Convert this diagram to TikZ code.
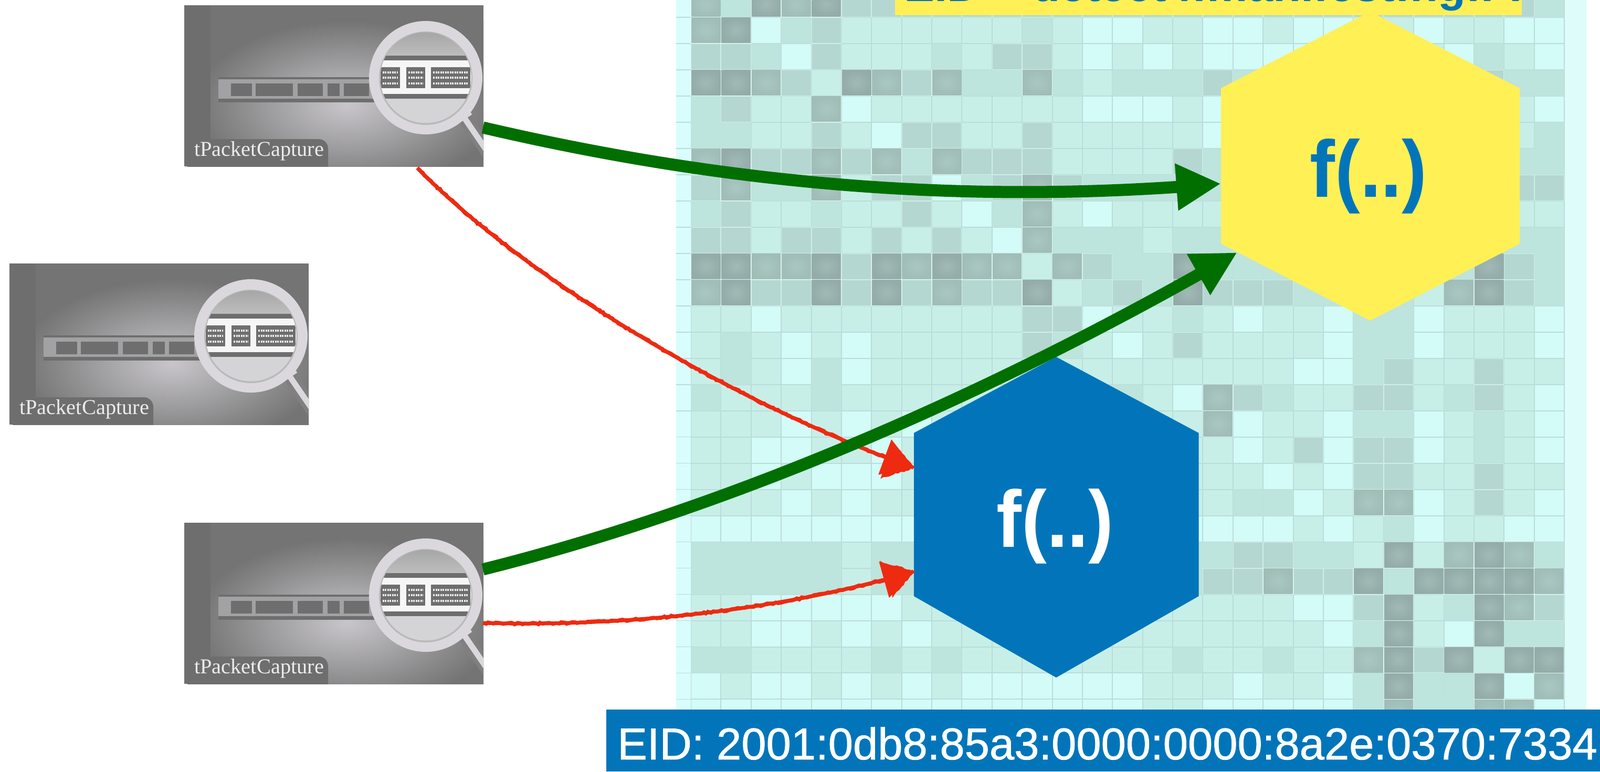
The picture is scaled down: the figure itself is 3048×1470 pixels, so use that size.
\documentclass[tikz,border=0pt]{standalone}
\usepackage{fontspec}
\setmainfont{Liberation Sans}
\newfontfamily\serifcap{Liberation Serif}
\newfontfamily\medsans[FakeBold=0.9]{Liberation Sans}
\usetikzlibrary{arrows.meta,decorations.pathmorphing,bending}
\definecolor{hmA}{HTML}{D3FBF7}
\definecolor{hmB}{HTML}{C7EFE8}
\definecolor{hmC}{HTML}{BDE4DD}
\definecolor{hmD}{HTML}{B4D7D1}
\definecolor{hmE}{HTML}{AAC8C3}
\definecolor{hmEd}{HTML}{A0BDB8}
\definecolor{hmF}{HTML}{A2BAB6}
\definecolor{hmFd}{HTML}{94ACA9}
\definecolor{gridlow}{HTML}{BADCDA}
\definecolor{gridmid}{HTML}{C0E3DC}
\definecolor{gridhi}{HTML}{D0EEE8}
\definecolor{gridtop}{HTML}{E2F7F3}
\definecolor{stripL}{HTML}{D9FDFC}
\definecolor{stripR}{HTML}{DDFCFA}
\definecolor{ciscoblue}{HTML}{0275BA}
\definecolor{hexyellow}{HTML}{FFF056}
\definecolor{arrowgreen}{HTML}{006F00}
\definecolor{sketchred}{HTML}{EE2A10}
\definecolor{capbase}{HTML}{747474}
\definecolor{capdark}{HTML}{6E6E6E}
\definecolor{capglow}{HTML}{C8C6CA}
\definecolor{capstrip}{HTML}{A2A1A3}
\definecolor{capring}{HTML}{DAD8DC}
\definecolor{caplens}{HTML}{D4D3D5}
\tikzset{
  hmgap0/.style={fill=gridlow}, hmgap1/.style={fill=gridlow},
  hmgap2/.style={fill=gridmid}, hmgap3/.style={fill=gridhi},
  hmgap4/.style={fill=gridtop}, hmgap5/.style={fill=gridtop},
  hmcell0/.style={fill=hmA}, hmcell1/.style={fill=hmB},
  hmcell2/.style={fill=hmC}, hmcell3/.style={fill=hmD},
  hmcell4/.style={inner color=hmE,outer color=hmEd},
  hmcell5/.style={inner color=hmF,outer color=hmFd},
  bigarrow/.style={draw=arrowgreen,line width=23pt,-{Triangle[length=85pt,width=84pt,color=arrowgreen]}},
  redarrow/.style={draw=sketchred,line width=7pt,-{Triangle[length=58pt,width=70pt,color=sketchred]},
    postaction={draw=sketchred,-,line width=7pt,decorate,decoration={random steps,segment length=5pt,amplitude=1.8pt,post length=50pt}}},
  redhead/.style={draw=sketchred,line width=3pt,decorate,decoration={random steps,segment length=5pt,amplitude=1.6pt}},
  hexlabel/.style={inner sep=0pt,anchor=base},
  barlabel/.style={inner sep=0pt,anchor=base west},
  captext/.style={font=\fontsize{40.4}{42}\selectfont\serifcap,text=white!92!black,anchor=base west,inner sep=0pt},
  capbox/.style={inner sep=0pt,minimum width=570pt,minimum height=307pt,anchor=north west},
}
\newcommand{\hexword}{\scalebox{0.91}[0.97]{\fontsize{158}{160}\selectfont\bfseries f(..)}}
\newcommand{\tpcapture}[3]{%
\begin{scope}[shift={(#2,#3)}]
  \begin{scope}
    \clip (0,0) rectangle (570,307);
    \fill[capbase] (0,0) rectangle (570,307);
    \shade[inner color=capglow,outer color=capbase] (20,30) rectangle (600,350);
    \fill[capdark] (0,0) rectangle (50,307);
    % window strip
    \fill[capdark] (65,137) rectangle (370,141);
    \fill[capdark] (65,178) rectangle (370,185);
    \fill[capstrip] (65,141) rectangle (370,178);
    \foreach \xa/\xb in {89/129,136/207,215.5/264,273/296,303.5/352}
      \fill[capdark] (\xa,149) rectangle (\xb,172.7);
    % handle
    \draw[line width=26pt,color=gray] (527,205) -- (592,300);
    \draw[line width=11pt,color=capring] (527,205) -- (592,300);
    \draw[line width=32pt,color=capring] (522,198) -- (535,217);
    % magnifier
    \fill[capring] (460,138) circle[radius=108];
    \fill[gray!55!white] (460,139) circle[radius=89];
    \begin{scope}
      \clip (460,138) circle[radius=86.5];
      \shade[top color=gray!70!white,bottom color=caplens,middle color=caplens] (370,50) rectangle (550,226);
      \fill[white!93!gray] (370,105) rectangle (550,169);
      \fill[capdark] (370,96) rectangle (550,105);
      \fill[capdark] (370,169) rectangle (550,178);
      \foreach \xa/\xb in {373.5/411,423/458.5,470/545}{
        \fill[capdark] (\xa,118) rectangle (\xb,158);
        \foreach \yy in {128,138,149}
          \draw[white!85!gray,line width=3.5pt,dash pattern=on 3pt off 1.5pt] (\xa+4,\yy) -- (\xb-4,\yy);
      }
    \end{scope}
    % label blob
    \fill[capdark,rounded corners=18pt] (6,255) rectangle (274,325);
    \node[captext] at (19,287) {tPacketCapture};
  \end{scope}
  \node[capbox] (#1) at (0,0) {};
\end{scope}}
\begin{document}
\begin{tikzpicture}[x=1pt,y=-1pt]
\useasboundingbox (0,0) rectangle (3048,1470);
\fill[white] (0,0) rectangle (3048,1470);
% ---- heat map
\begin{scope}
\clip (1288,0) rectangle (3022,1352);
\fill[stripL] (1288,0) rectangle (1317,1352);
\fill[stripR] (2980,0) rectangle (3022,1352);
\foreach \cells [count=\r from 0] in {
{4,2,5,4,5,3,3,3,3,3,3,3,3,3,3,3,3,3,3,3,3,3,3,3,3,3,3,3,2},
{4,5,0,2,3,1,1,1,1,1,1,2,1,0,0,1,1,0,0,1,0,0,0,1,0,1,1,0,0},
{3,3,2,0,3,1,1,1,2,1,3,3,1,0,1,0,1,0,0,0,0,1,1,1,1,0,2,1,0},
{5,5,4,3,1,5,4,3,4,2,2,4,2,1,2,2,2,3,2,2,2,2,2,2,2,2,3,2,2},
{2,3,1,1,4,0,1,1,1,1,1,1,1,0,0,0,1,0,0,0,0,0,0,0,0,0,1,1,0},
{2,2,1,1,3,1,0,3,3,1,1,3,1,1,1,1,1,0,1,1,1,1,1,1,1,1,1,1,2},
{4,5,3,3,4,3,4,2,4,3,3,3,1,1,1,1,3,2,2,2,2,2,2,2,2,2,2,2,2},
{3,4,2,2,4,1,3,3,0,2,3,4,3,2,2,2,2,2,2,2,2,2,2,2,2,2,2,3,3},
{2,3,1,1,2,1,1,3,1,0,2,4,1,0,1,1,1,1,1,1,1,1,1,1,1,1,1,1,1},
{3,3,1,3,3,1,3,1,3,1,0,4,2,2,2,1,2,2,2,2,2,2,2,2,2,2,2,2,2},
{5,5,4,4,5,3,5,4,5,4,4,1,4,3,2,2,5,2,2,2,2,2,2,2,2,2,5,3,2},
{4,5,3,3,5,3,5,3,4,3,3,5,1,2,3,2,5,3,3,3,2,2,2,2,1,4,5,3,2},
{1,1,0,1,1,1,1,1,1,1,1,3,3,0,1,1,2,1,0,1,1,0,2,2,0,1,1,1,0},
{1,2,1,0,1,0,1,1,1,1,1,3,2,1,0,1,3,1,1,1,1,0,2,2,0,1,1,1,0},
{1,2,1,0,2,0,1,1,1,1,1,1,1,1,1,1,1,1,1,1,0,0,2,3,1,1,3,1,1},
{2,1,1,1,2,1,1,1,1,1,1,1,1,1,2,1,0,4,3,2,1,1,3,3,1,2,3,1,0},
{1,1,1,0,1,0,1,0,1,1,1,0,1,1,1,1,1,4,0,1,1,0,2,2,0,1,2,1,0},
{1,1,0,0,1,1,0,1,1,1,1,1,1,1,1,1,1,1,0,1,3,0,3,3,0,1,2,1,0},
{1,1,0,1,0,0,0,1,1,1,1,1,1,1,1,1,1,1,1,0,1,0,3,3,1,1,3,1,1},
{1,1,1,0,1,0,1,1,1,1,1,1,1,1,1,1,1,1,2,2,0,1,4,4,0,1,3,1,0},
{0,0,0,0,0,0,0,0,0,0,0,0,0,0,0,0,0,0,0,0,1,0,1,2,0,1,1,0,0},
{2,2,2,2,2,1,2,2,2,2,2,2,2,2,2,2,2,2,3,3,2,2,1,5,1,4,5,4,2},
{2,2,2,2,2,1,2,2,2,2,2,2,2,2,2,2,2,3,3,4,3,3,5,2,5,5,5,5,4},
{1,1,0,0,0,0,0,1,1,1,1,1,1,1,1,1,1,1,1,1,0,0,3,5,1,2,5,4,3},
{1,1,0,0,1,0,1,0,1,1,1,1,1,1,1,1,1,1,1,1,1,0,2,5,1,0,5,2,2},
{2,2,1,1,1,1,2,1,2,1,1,1,1,1,1,1,2,1,1,2,1,1,4,5,3,5,1,5,5},
{0,1,0,0,1,0,1,0,1,0,0,0,0,0,0,1,1,1,0,1,1,0,2,5,2,2,5,0,4},
{0,0,0,0,0,0,0,0,0,0,0,0,0,0,0,1,1,0,0,0,0,0,2,4,2,2,4,4,0}}{
  \foreach \t [count=\c from 0] in \cells {
    \pgfmathsetmacro{\xl}{1316+57.38*\c}
    \pgfmathsetmacro{\yl}{-17+49.98*\r}
    \path[hmgap\t] (\xl,\yl) rectangle ++(57.38,49.98);
    \path[hmcell\t] (\xl+1,\yl+1) rectangle ++(55.38,47.98);
  }
  \pgfmathsetmacro{\yl}{33+49.98*\r}
  \draw[gridlow,line width=1.6pt] (1288,\yl) -- (1316,\yl);
}
\draw[gridlow,line width=1.2pt] (2980.5,0) -- (2980.5,1352);
\end{scope}
% ---- hexagons
\coordinate (yT) at (2610,22);
\coordinate (yTR) at (2895,168);
\coordinate (yBR) at (2895,464.5);
\coordinate (yB) at (2610,611);
\coordinate (yBL) at (2326,464.5);
\coordinate (yTL) at (2326,168);
\fill[hexyellow] (yT) -- (yTR) -- (yBR) -- (yB) -- (yBL) -- (yTL) -- cycle;
\node[hexlabel,text=ciscoblue] (fy) at (2607,375) {\hexword};
\coordinate (bT) at (2012,680);
\coordinate (bTR) at (2283.5,825);
\coordinate (bBR) at (2283.5,1136);
\coordinate (bB) at (2012,1291);
\coordinate (bBL) at (1741,1136);
\coordinate (bTL) at (1741,825);
\fill[ciscoblue] (bT) -- (bTR) -- (bBR) -- (bB) -- (bBL) -- (bTL) -- cycle;
\node[hexlabel,text=white] (fb) at (2010,1042) {\hexword};
% ---- bars
\path[fill=hexyellow] (1705,-2) rectangle (2899,29);
\begin{scope}
  \clip (1705,0) rectangle (2899,29);
  \node[barlabel,text=ciscoblue,font=\fontsize{87}{90}\selectfont\bfseries] (topbar) at (1722,2) {EID = detect4:manifest:ng:FF2};
\end{scope}
\path[fill=ciscoblue] (1155,1352) rectangle (3048,1470);
\node[barlabel,text=white,font=\fontsize{85}{90}\selectfont\medsans] (eid) at (1176,1447) {EID: 2001:0db8:85a3:0000:0000:8a2e:0370:7334};
% ---- capture images
\tpcapture{capA}{351}{10}
\tpcapture{capB}{18}{502}
\tpcapture{capC}{351}{996}
% ---- connector ends
\coordinate (rA) at (795,320);
\coordinate (rC) at (920,1187);
\coordinate (gA) at (920,243);
\coordinate (gC) at (920,1085);
\coordinate (inYa) at (2326,350);
\coordinate (inYb) at (2357,481);
\coordinate (inBa) at (1740,891);
\coordinate (inBb) at (1740,1089);
% ---- red sketched arrows
\draw[redarrow] (rA) .. controls (1000,530) and (1400,770) .. (inBa);
\draw[redarrow] (rC) .. controls (1200,1195) and (1500,1160) .. (inBb);
\path[redhead,fill=sketchred] (1700,845) -- (inBa) -- (1680,909) -- cycle;
\path[redhead,fill=sketchred] (1679,1072) -- (inBb) -- (1701,1135) -- cycle;
% ---- green arrows
\draw[bigarrow] (gA) .. controls (1400,355) and (1850,390) .. (inYa);
\draw[bigarrow] (gC) .. controls (1400,965) and (1900,745) .. (inYb);
\end{tikzpicture}
\end{document}
